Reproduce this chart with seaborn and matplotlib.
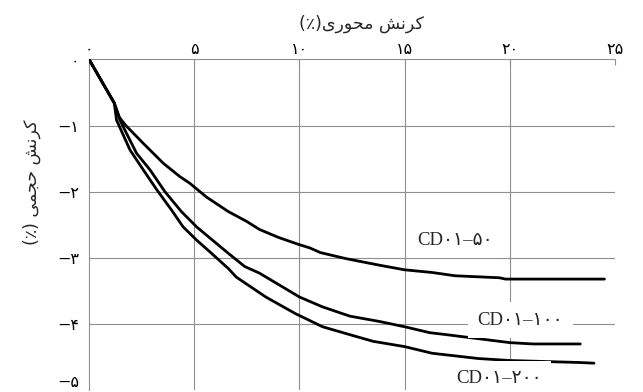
import numpy as np
import pandas as pd
import matplotlib
matplotlib.use("Agg")
import matplotlib.pyplot as plt
import seaborn as sns

# ---------------- data ----------------
series_names = ["CD۰۱–۵۰", "CD۰۱–۱۰۰", "CD۰۱–۲۰۰"]

x_50 = [0, 1.2, 1.45, 1.75, 2.58, 3.53, 4.31, 4.78, 5.58, 6.62, 7.5, 8.1,
        9.0, 9.9, 10.5, 11.0, 12.2, 13.8, 15.0, 16.3, 17.4, 19.5, 19.8, 24.5]
y_50 = [0, -0.66, -0.88, -1.00, -1.27, -1.57, -1.77, -1.87, -2.08, -2.30,
        -2.45, -2.57, -2.69, -2.79, -2.85, -2.92, -3.01, -3.11, -3.18,
        -3.22, -3.27, -3.30, -3.32, -3.32]

x_100 = [0, 1.2, 1.47, 2.26, 2.90, 3.61, 4.39, 5.11, 5.75, 6.62, 7.4, 8.1,
         9.05, 10.0, 11.1, 12.4, 13.8, 15.0, 16.2, 17.0, 20.0, 21.1, 23.35]
y_100 = [0, -0.66, -0.92, -1.42, -1.67, -2.00, -2.30, -2.53, -2.70, -2.93,
         -3.13, -3.23, -3.41, -3.59, -3.74, -3.88, -3.96, -4.04, -4.13,
         -4.16, -4.28, -4.30, -4.30]

x_200 = [0, 1.2, 1.31, 1.95, 2.58, 3.22, 3.93, 4.47, 5.11, 5.75, 6.62, 7.0,
         8.4, 9.8, 11.1, 12.4, 13.5, 15.0, 16.3, 18.5, 20.0, 23.3, 24.0]
y_200 = [0, -0.66, -0.92, -1.37, -1.67, -1.97, -2.28, -2.53, -2.73, -2.91,
         -3.16, -3.29, -3.59, -3.84, -4.04, -4.16, -4.26, -4.34, -4.44,
         -4.52, -4.55, -4.58, -4.59]

# label anchor positions (data coords) for the curve names
label_x = [17.4, 20.5, 19.5]
label_y = [-2.73, -3.94, -4.82]

x_ticks = [0, 5, 10, 15, 20, 25]
x_tick_labels = ["۰", "۵", "۱۰", "۱۵", "۲۰", "۲۵"]
y_ticks = [0, -1, -2, -3, -4, -5]
y_tick_labels = ["۰", "−۱", "−۲", "−۳", "−۴", "−۵"]

# Persian titles (shaped presentation forms in visual order)
x_title = "(\u066A)\uFBFC\uFEAD\uFEEE\uFEA4\uFEE3 \uFEB6\uFEE7\uFEAE\uFB90"   # کرنش محوری(٪)
y_title = "(\u066A) \uFBFD\uFEE4\uFEA0\uFEA3 \uFEB6\uFEE7\uFEAE\uFB90"       # کرنش حجمی (٪)

# ---------------- figure ----------------
sns.set_theme(style="white")
plt.rcParams['font.family'] = ['DejaVu Sans']

df = pd.concat([
    pd.DataFrame({"x": x_50, "y": y_50, "s": series_names[0]}),
    pd.DataFrame({"x": x_100, "y": y_100, "s": series_names[1]}),
    pd.DataFrame({"x": x_200, "y": y_200, "s": series_names[2]}),
], ignore_index=True)

fig = plt.figure(figsize=(6.43, 3.92), dpi=100)
ax = fig.add_axes([89 / 643, 1.7 / 392, 526 / 643, 331 / 392])

sns.lineplot(data=df, x="x", y="y", hue="s", units="s", estimator=None,
             sort=False, palette=["black"] * 3, linewidth=2.0, legend=False,
             ax=ax, zorder=3)

ax.set_xlim(0, 25)
ax.set_ylim(-5, 0)
ax.set_xlabel("")
ax.set_ylabel("")

gcol = "#8f8f8f"
ax.xaxis.tick_top()
ax.set_xticks(x_ticks)
ax.set_xticklabels(x_tick_labels)
ax.set_yticks(y_ticks)
ax.set_yticklabels(y_tick_labels)
ax.tick_params(axis="x", direction="in", length=4, width=0.8, color=gcol,
               pad=2, labelsize=11.5, labelcolor="black")
ax.tick_params(axis="y", direction="out", length=4, width=0.8, color=gcol,
               pad=3, labelsize=11.5, labelcolor="black")
ax.get_yticklabels()[-1].set_verticalalignment("bottom")

ax.grid(True, color=gcol, linewidth=0.8)
xg = ax.get_xgridlines()
xg[0].set_visible(False)
xg[-1].set_visible(False)
yg = ax.get_ygridlines()
yg[0].set_visible(False)
yg[-1].set_visible(False)

for side in ["right", "bottom"]:
    ax.spines[side].set_visible(False)
for side in ["top", "left"]:
    ax.spines[side].set_color(gcol)
    ax.spines[side].set_linewidth(0.8)

for name, lx, ly in zip(series_names, label_x, label_y):
    ax.text(lx, ly, name, ha="center", va="center", fontsize=13.5,
            family=["Liberation Serif", "DejaVu Sans"], zorder=5,
            bbox=dict(boxstyle="square,pad=0.5", fc="white", ec="none"))

fig.text(361 / 643, 1 - 24 / 392, x_title, ha="center", va="center",
         fontsize=12.5)
fig.text(32 / 643, 1 - 182 / 392, y_title, ha="center", va="center",
         fontsize=12.5, rotation=90)

fig.savefig("out.png", dpi=100, facecolor="white")
